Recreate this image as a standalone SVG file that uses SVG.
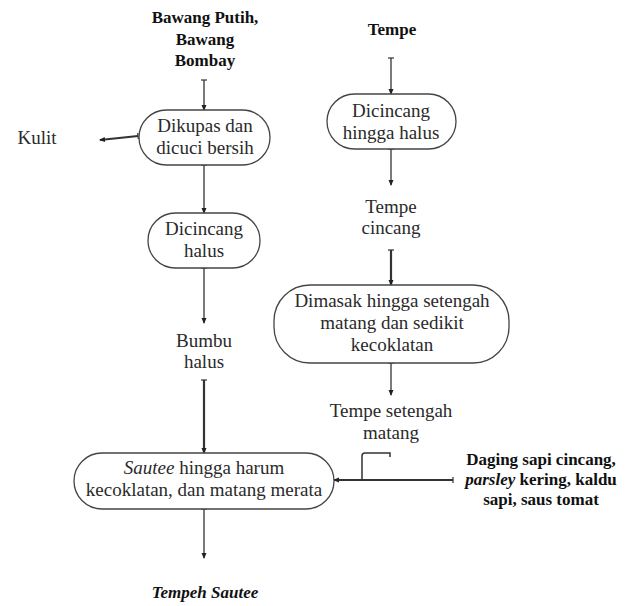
<svg xmlns="http://www.w3.org/2000/svg" width="639" height="606" viewBox="0 0 639 606">
<style>
  text{font-family:'Liberation Serif','Times New Roman',Times,'DejaVu Serif',serif}
  .t{font-size:19px;fill:#2a2a2a;text-anchor:middle}
  .b{font-size:17px;font-weight:bold;fill:#111;text-anchor:middle}
  .n{fill:#fff;stroke:#444;stroke-width:1.3}
  .c{fill:none;stroke:#333;stroke-width:1.3;marker-start:url(#tick);marker-end:url(#head)}
  .k{stroke-width:2.2}
</style>
<defs>
  <marker id="head" viewBox="0 0 6 6" refX="5" refY="3" markerWidth="6" markerHeight="6" markerUnits="userSpaceOnUse" orient="auto">
    <path d="M0,0.5 L6,3 L0,5.5 Z" fill="#222"/>
  </marker>
  <marker id="tick" viewBox="0 0 4 6" refX="2" refY="3" markerWidth="4" markerHeight="6" markerUnits="userSpaceOnUse" orient="auto">
    <path d="M2,0 L2,6" stroke="#333" stroke-width="1.2"/>
  </marker>
</defs>
<rect width="639" height="606" fill="#fff"/>
<g id="connectors">
  <path class="c" d="M204,80 L204,110"/>
  <path class="c k" d="M138,136 L100,140"/>
  <path class="c" d="M204,165 L204,213"/>
  <path class="c" d="M204,268 L204,323"/>
  <path class="c k" d="M204,380 L204,453"/>
  <path class="c" d="M204,509 L204,558"/>
  <path class="c" d="M391,58 L391,94"/>
  <path class="c" d="M391,149 L391,185"/>
  <path class="c k" d="M391,250 L391,285"/>
  <path class="c" d="M391,363 L391,395"/>
  <path class="c k" d="M453,480 L334,480"/>
  <path d="M362,480 L362,456 Q362,453 365,453 L390,453 L390,457" fill="none" stroke="#333" stroke-width="1.5"/>
</g>
<g id="in-bawang" font-family="Liberation Serif, serif">
  <text class="b" x="205" y="23">Bawang Putih,</text>
  <text class="b" x="205" y="45">Bawang</text>
  <text class="b" x="205" y="66">Bombay</text>
</g>
<g id="n-dikupas">
  <rect class="n" x="139" y="110" width="131" height="55" rx="27.5"/>
  <text class="t" x="205" y="132">Dikupas dan</text>
  <text class="t" x="205" y="154">dicuci bersih</text>
</g>
<g id="out-kulit">
  <text class="t" x="37" y="144">Kulit</text>
</g>
<g id="n-dicincang-halus">
  <rect class="n" x="148" y="213" width="112" height="55" rx="27.5"/>
  <text class="t" x="204" y="235">Dicincang</text>
  <text class="t" x="204" y="257">halus</text>
</g>
<g id="t-bumbu">
  <text class="t" x="204" y="347">Bumbu</text>
  <text class="t" x="204" y="368">halus</text>
</g>
<g id="n-sautee">
  <rect class="n" x="74" y="453" width="260" height="56" rx="28"/>
  <text class="t" x="204" y="474"><tspan font-style="italic">Sautee</tspan> hingga harum</text>
  <text class="t" x="204" y="496">kecoklatan, dan matang merata</text>
</g>
<g id="out-tempeh-sautee">
  <text class="b" x="205" y="598" font-style="italic">Tempeh Sautee</text>
</g>
<g id="in-tempe">
  <text class="b" x="392" y="35">Tempe</text>
</g>
<g id="n-dicincang-hingga">
  <rect class="n" x="327" y="94" width="129" height="55" rx="27.5"/>
  <text class="t" x="391" y="117">Dicincang</text>
  <text class="t" x="391" y="139">hingga halus</text>
</g>
<g id="t-tempe-cincang">
  <text class="t" x="391" y="213">Tempe</text>
  <text class="t" x="391" y="234">cincang</text>
</g>
<g id="n-dimasak">
  <rect class="n" x="274" y="285" width="235" height="78" rx="36"/>
  <text class="t" x="392" y="307">Dimasak hingga setengah</text>
  <text class="t" x="392" y="329">matang dan sedikit</text>
  <text class="t" x="392" y="351">kecoklatan</text>
</g>
<g id="t-tempe-setengah">
  <text class="t" x="391" y="417">Tempe setengah</text>
  <text class="t" x="391" y="439">matang</text>
</g>
<g id="in-daging">
  <text class="b" x="541" y="465">Daging sapi cincang,</text>
  <text class="b" x="541" y="485"><tspan font-style="italic">parsley</tspan> kering, kaldu</text>
  <text class="b" x="541" y="505">sapi, saus tomat</text>
</g>
</svg>
